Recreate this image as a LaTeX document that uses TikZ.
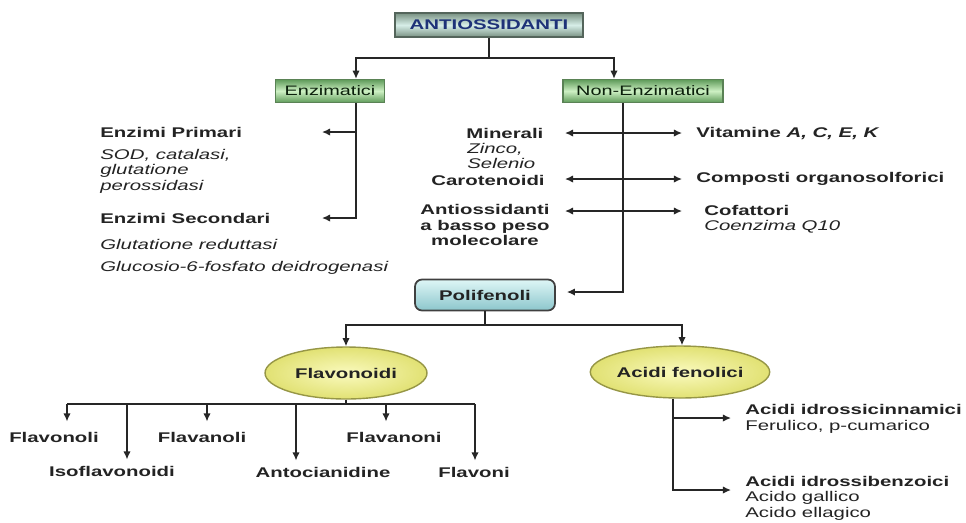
\documentclass[tikz,border=0pt]{standalone}
\usepackage{fontspec}
\setmainfont[FakeStretch=1.45]{Liberation Sans}
\usetikzlibrary{arrows.meta,shapes.geometric,positioning}

\definecolor{grigio}{RGB}{35,35,35}
\definecolor{bluscuro}{RGB}{30,50,120}
\definecolor{grigioverde}{RGB}{120,145,130}
\definecolor{menta}{RGB}{215,238,232}
\definecolor{verdescuro}{RGB}{95,155,90}
\definecolor{verdechiaro}{RGB}{205,240,195}
\definecolor{verdebordo}{RGB}{90,130,85}
\definecolor{acqua}{RGB}{222,246,246}
\definecolor{acquascuro}{RGB}{140,198,204}
\definecolor{giallo}{RGB}{250,250,190}
\definecolor{giallo2}{RGB}{225,225,115}
\definecolor{oliva}{RGB}{150,150,70}

\tikzset{
  testo/.style={inner sep=0pt, text=grigio, font=\fontsize{8}{8.8}\selectfont\bfseries},
  corsivo/.style={testo, font=\fontsize{8}{8.8}\selectfont\itshape},
  radice/.style={draw=grigioverde!70!black, line width=0.8pt, top color=grigioverde, bottom color=grigioverde, middle color=menta,
    minimum width=3.76cm, minimum height=0.48cm, inner sep=0pt, text=bluscuro, font=\fontsize{8}{8.8}\selectfont\bfseries},
  ramo/.style={draw=verdebordo, line width=0.8pt, top color=verdescuro, bottom color=verdescuro, middle color=verdechiaro,
    minimum height=0.46cm, inner sep=0pt, text=grigio!80!green!40!black, font=\fontsize{7.8}{8.8}\selectfont},
  gruppo/.style={draw=black!75, line width=1pt, rounded corners=4pt, top color=acqua, bottom color=acquascuro,
    minimum width=2.8cm, minimum height=0.62cm, inner sep=0pt, text=grigio, font=\fontsize{8}{8.8}\selectfont\bfseries},
  classe/.style={ellipse, draw=oliva, line width=0.8pt, inner color=giallo, outer color=giallo2,
    minimum height=1.04cm, inner sep=0pt, text=grigio, font=\fontsize{8}{8.8}\selectfont\bfseries},
  linea/.style={draw=black!85, line width=0.8pt},
  freccia/.style={linea, -{Latex[length=4.6pt,width=4.2pt]}},
  doppia/.style={linea, {Latex[length=4.6pt,width=4.2pt]}-{Latex[length=4.6pt,width=4.2pt]}}
}

\begin{document}
\begin{tikzpicture}[x=0.02cm, y=-0.02cm]
  \useasboundingbox (0,0) rectangle (966,522);

  % livello superiore
  \node[radice] (antiox) at (489,25) {ANTIOSSIDANTI};
  \node[ramo, minimum width=2.18cm] (enz) at (330,91) {Enzimatici};
  \node[ramo, minimum width=3.2cm] (nonenz) at (643,91) {Non-Enzimatici};

  \coordinate (b1) at (489,58);
  \coordinate (b1l) at (356,58);
  \coordinate (b1r) at (614,58);
  \draw[linea] (antiox) -- (b1);
  \draw[freccia] (b1) -- (b1l) -- (enz.north -| b1l);
  \draw[freccia] (b1) -- (b1r) -- (nonenz.north -| b1r);

  % ramo enzimatico
  \node[testo, anchor=west] (primari) at (100,132) {Enzimi Primari};
  \node[corsivo, anchor=west, align=left] (sod) at (100,171) {SOD, catalasi,\\glutatione\\perossidasi};
  \node[testo, anchor=west] (secondari) at (100,218) {Enzimi Secondari};
  \node[corsivo, anchor=west] (redutt) at (100,244) {Glutatione reduttasi};
  \node[corsivo, anchor=west] (glucosio) at (100,268) {Glucosio-6-fosfato deidrogenasi};

  \coordinate (e1) at (356,132);
  \coordinate (e2) at (356,218);
  \coordinate (p1) at (322,132);
  \coordinate (p2) at (322,218);
  \draw[freccia] (enz.south -| e2) -- (e2) -- (p2);
  \draw[freccia] (e1) -- (p1);

  % ramo non enzimatico
  \node[testo, anchor=west] (minerali) at (466,133) {Minerali};
  \node[corsivo, anchor=west, align=left] (zinco) at (467,156) {Zinco,\\Selenio};
  \node[testo, anchor=east] (caroten) at (545,180) {Carotenoidi};
  \node[testo, align=center] (basso) at (485,225) {Antiossidanti\\a basso peso\\molecolare};
  \node[testo, anchor=west] (vitamine) at (696,133) {Vitamine \textit{A, C, E, K}};
  \node[testo, anchor=west] (composti) at (696,179) {Composti organosolforici};
  \node[testo, anchor=west, align=left] (cofattori) at (704,219) {Cofattori\\\textmd{\textit{Coenzima Q10}}};

  \coordinate (m1) at (565,133);
  \coordinate (v1) at (682,133);
  \coordinate (m2) at (565,179);
  \coordinate (v2) at (682,179);
  \coordinate (m3) at (565,211);
  \coordinate (v3) at (682,211);
  \draw[doppia] (m1) -- (v1);
  \draw[doppia] (m2) -- (v2);
  \draw[doppia] (m3) -- (v3);

  % polifenoli
  \node[gruppo] (poli) at (485,295) {Polifenoli};
  \coordinate (n1) at (623,292);
  \draw[freccia, shorten >=0.22cm] (nonenz.south -| n1) -- (n1) -- (n1 -| poli.east);

  \node[classe, minimum width=3.24cm] (flavo) at (346,373) {Flavonoidi};
  \node[classe, minimum width=3.1cm] (acidi) at (680,372) {Acidi fenolici};

  \coordinate (b2) at (485,325);
  \coordinate (b2l) at (346,325);
  \coordinate (b2r) at (682,325);
  \draw[linea] (poli) -- (b2);
  \draw[freccia] (b2) -- (b2l) -- (flavo.north);
  \draw[freccia] (b2) -- (b2r) -- (b2r |- acidi.north);

  % flavonoidi
  \node[testo] (flavonoli) at (54,437) {Flavonoli};
  \node[testo] (isoflavo) at (112,471) {Isoflavonoidi};
  \node[testo] (flavanoli) at (202,437) {Flavanoli};
  \node[testo] (antocian) at (323,472) {Antocianidine};
  \node[testo] (flavanoni) at (394,437) {Flavanoni};
  \node[testo] (flavoni) at (474,472) {Flavoni};

  \coordinate (f0) at (346,404);
  \coordinate (fa) at (67,404);
  \coordinate (fb) at (127,404);
  \coordinate (fc) at (207,404);
  \coordinate (fd) at (296,404);
  \coordinate (fe) at (386,404);
  \coordinate (ff) at (475,404);
  \draw[linea] (flavo.south) -- (f0);
  \draw[linea] (fa) -- (ff);
  \draw[freccia, shorten >=0.2cm] (fa) -- (fa |- flavonoli.north);
  \draw[freccia, shorten >=0.12cm] (fb) -- (fb |- isoflavo.north);
  \draw[freccia, shorten >=0.2cm] (fc) -- (fc |- flavanoli.north);
  \draw[freccia, shorten >=0.12cm] (fd) -- (fd |- antocian.north);
  \draw[freccia, shorten >=0.2cm] (fe) -- (fe |- flavanoni.north);
  \draw[freccia, shorten >=0.12cm] (ff) -- (ff |- flavoni.north);

  % acidi fenolici
  \node[testo, anchor=west, align=left] (cinnam) at (745,419) {Acidi idrossicinnamici\\\textmd{Ferulico, p-cumarico}};
  \node[testo, anchor=west, align=left] (benzoici) at (745,498) {Acidi idrossibenzoici\\\textmd{Acido gallico}\\\textmd{Acido ellagico}};

  \coordinate (a1) at (673,418);
  \coordinate (a2) at (673,490);
  \draw[freccia, shorten >=0.28cm] (acidi.south -| a2) -- (a2) -- (a2 -| benzoici.west);
  \draw[freccia, shorten >=0.28cm] (a1) -- (a1 -| cinnam.west);
\end{tikzpicture}
\end{document}
